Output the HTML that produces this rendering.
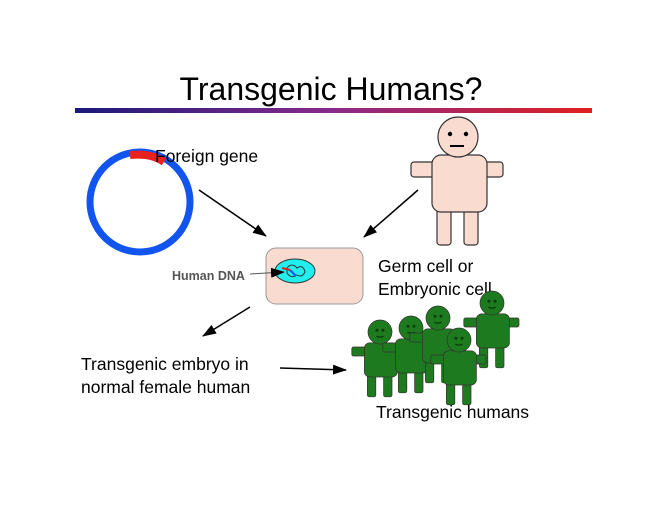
<!DOCTYPE html>
<html><head><style>body{margin:0;background:#fff}svg{display:block}text{font-family:"Liberation Sans",sans-serif}</style></head><body>
<svg width="660" height="510" viewBox="0 0 660 510">
<defs>
<linearGradient id="g" x1="0" x2="1"><stop offset="0" stop-color="#1a1a7a"/><stop offset="0.5" stop-color="#8a2a8a"/><stop offset="1" stop-color="#e02020"/></linearGradient>
<marker id="a" markerWidth="14" markerHeight="10" refX="13" refY="5" orient="auto" markerUnits="userSpaceOnUse"><path d="M0,0L14,5L0,10z" fill="#000"/></marker>
<g id="p" stroke="#333" stroke-width="1.2">
<rect x="-47" y="25" width="24" height="15" rx="3"/><rect x="21" y="25" width="24" height="15" rx="3"/>
<rect x="-21" y="68" width="14" height="40" rx="3"/><rect x="6" y="68" width="14" height="40" rx="3"/>
<rect x="-26" y="18" width="55" height="57" rx="9"/>
<circle cx="0" cy="0" r="20"/>
</g>
<g id="f" fill="none" stroke="#0a3a0a" stroke-width="2"><circle cx="-5" cy="-3" r="1.5"/><circle cx="5" cy="-3" r="1.5"/><path d="M-6,7q6,3 12,0"/></g>
</defs>
<text x="331" y="100" font-size="32" text-anchor="middle">Transgenic Humans?</text>
<rect x="75" y="108" width="517" height="5" fill="url(#g)"/>
<circle cx="140" cy="202" r="50" fill="none" stroke="#1155ee" stroke-width="7"/>
<path d="M130,155 Q152,153 164,162" fill="none" stroke="#e82020" stroke-width="8"/>
<text x="155" y="162" font-size="17.5">Foreign gene</text>
<g fill="#fadbd0"><use href="#p" transform="translate(458,137)"/></g>
<circle cx="450" cy="134" r="2.2" fill="#000"/><circle cx="466" cy="134" r="2.2" fill="#000"/><path d="M450,146h14" stroke="#000" stroke-width="2"/>
<line x1="199" y1="190" x2="266" y2="236" stroke="#000" stroke-width="1.5" marker-end="url(#a)"/>
<line x1="418" y1="190" x2="364" y2="237" stroke="#000" stroke-width="1.5" marker-end="url(#a)"/>
<rect x="266" y="248" width="97" height="56" rx="10" fill="#fadbd0" stroke="#999"/>
<ellipse cx="295" cy="271" rx="20" ry="12" fill="#22eeee" stroke="#333"/>
<path d="M287,268 q5,-6 10,0 q6,-4 8,4 q-3,6 -8,3 q-6,4 -10,-2z" fill="none" stroke="#333"/>
<path d="M282,268l8,2" stroke="#e02020" stroke-width="2"/><path d="M290,270l6,6" stroke="#1155ee" stroke-width="2"/>
<line x1="250" y1="274" x2="284" y2="272" stroke="#555" stroke-width="1" marker-end="url(#a)"/>
<text x="172" y="280" font-size="12.5" font-weight="bold" fill="#555">Human DNA</text>
<text x="378" y="272" font-size="17.5">Germ cell or</text>
<text x="378" y="295" font-size="17.5">Embryonic cell</text>
<line x1="250" y1="307" x2="203" y2="336" stroke="#000" stroke-width="1.5" marker-end="url(#a)"/>
<text x="81" y="370" font-size="17.5">Transgenic embryo in</text>
<text x="81" y="393" font-size="17.5">normal female human</text>
<line x1="280" y1="368" x2="346" y2="370" stroke="#000" stroke-width="1.5" marker-end="url(#a)"/>
<g fill="#1e7a1e">
<g transform="translate(492,303) scale(0.6)"><use href="#p"/><use href="#f"/></g>
<g transform="translate(380,332) scale(0.6)"><use href="#p"/><use href="#f"/></g>
<g transform="translate(411,328) scale(0.6)"><use href="#p"/><use href="#f"/></g>
<g transform="translate(438,318) scale(0.6)"><use href="#p"/><use href="#f"/></g>
<g transform="translate(459,340) scale(0.6)"><use href="#p"/><use href="#f"/></g>
</g>
<text x="376" y="418" font-size="17.5">Transgenic humans</text>
</svg>
</body></html>
